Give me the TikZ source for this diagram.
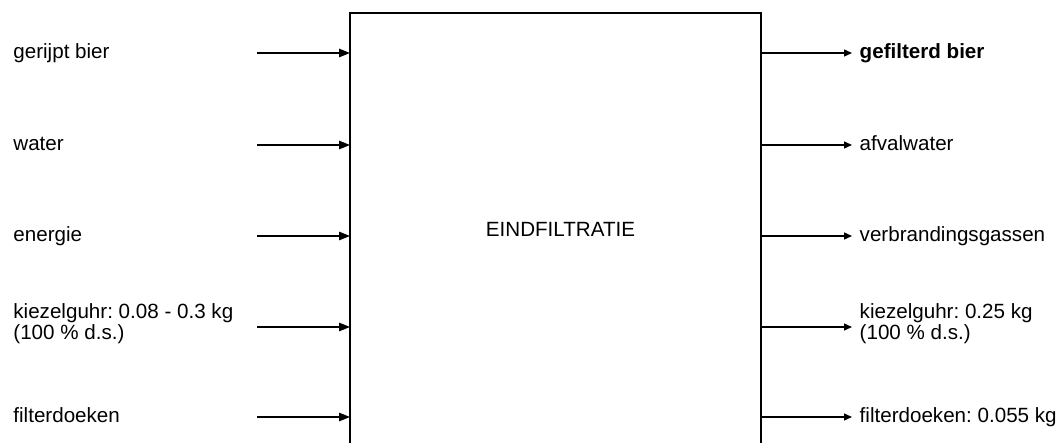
\documentclass[tikz,border=0pt]{standalone}
\usepackage{fontspec}
\setmainfont{Liberation Sans}
\usetikzlibrary{arrows.meta}
\frenchspacing
\begin{document}
\begin{tikzpicture}[x=1pt, y=-1pt, line width=1.4pt,
  lbl/.style={font=\fontsize{20.6}{16.5}\selectfont, inner sep=0pt, anchor=base west, align=left},
  inarrow/.style={-{Triangle[length=11pt,width=8.5pt]}},
  outarrow/.style={-{Triangle[length=8pt,width=7pt]}}]
\useasboundingbox (0,0) rectangle (1060,443);

% process box, open at the bottom
\coordinate (boxBL) at (350,443);
\coordinate (boxTL) at (350,13);
\coordinate (boxTR) at (761,13);
\coordinate (boxBR) at (761,443);
\draw (boxBL) -- (boxTL) -- (boxTR) -- (boxBR);
\node[lbl, anchor=base] (proc) at (560.5,236.7) {EINDFILTRATIE};

% inputs
\foreach \name/\y/\txt in {i1/53/{gerijpt bier}, i2/145/{water}, i3/236/{energie}, i5/417/{filterdoeken}} {
  \node[lbl] (\name) at (12.7,\y+5.6) {\txt};
  \coordinate (\name s) at (257,\y);
  \coordinate (\name e) at (350,\y);
  \draw[inarrow] (\name s) -- (\name e);
}
% two-line label: the base anchor sits on the last line
\node[lbl] (i4) at (12.7,339.2) {kiezelguhr: 0.08 - 0.3 kg\\(100 \% d.s.)};
\coordinate (i4s) at (257,327);
\coordinate (i4e) at (350,327);
\draw[inarrow] (i4s) -- (i4e);

% outputs
\foreach \name/\y/\txt in {o2/145/{afvalwater}, o3/236/{verbrandingsgassen}, o5/417/{filterdoeken: 0.055 kg}} {
  \node[lbl] (\name) at (859,\y+5.6) {\txt};
  \coordinate (\name s) at (761,\y);
  \coordinate (\name e) at (852,\y);
  \draw[outarrow] (\name s) -- (\name e);
}
\node[lbl, font=\fontsize{20.6}{16.5}\selectfont\bfseries] (o1) at (859,58.6) {gefilterd bier};
\coordinate (o1s) at (761,53);
\coordinate (o1e) at (852,53);
\draw[outarrow] (o1s) -- (o1e);
\node[lbl] (o4) at (859,339.2) {kiezelguhr: 0.25 kg\\(100 \% d.s.)};
\coordinate (o4s) at (761,327);
\coordinate (o4e) at (852,327);
\draw[outarrow] (o4s) -- (o4e);
\end{tikzpicture}
\end{document}
